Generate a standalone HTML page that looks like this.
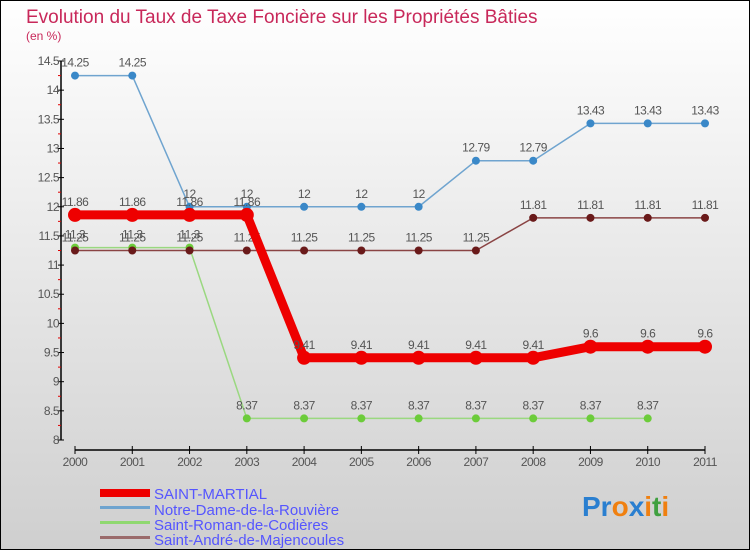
<!DOCTYPE html>
<html><head><meta charset="utf-8"><style>
body{margin:0}
svg{display:block;font-family:"Liberation Sans",sans-serif}
</style></head><body>
<svg width="750" height="550" xmlns="http://www.w3.org/2000/svg">
<defs><linearGradient id="bg" x1="0" y1="0" x2="0" y2="1"><stop offset="0" stop-color="#ffffff"/><stop offset="1" stop-color="#cfcfcf"/></linearGradient></defs>
<rect x="0.5" y="0.5" width="749" height="549" fill="url(#bg)" stroke="#000"/>
<text x="26" y="23" font-size="19" fill="#c8285a">Evolution du Taux de Taxe Foncière sur les Propriétés Bâties</text>
<text x="26" y="40" font-size="12" fill="#c8285a">(en %)</text>
<g id="axes"></g>
<g id="series"></g>
<g font-size="15" fill="#5555ff">
<rect x="100" y="489" width="50" height="8" fill="#ee0000"/>
<text x="154" y="499">SAINT-MARTIAL</text>
<rect x="100" y="506" width="50" height="3" fill="#6fa4cf"/>
<text x="154" y="515">Notre-Dame-de-la-Rouvière</text>
<rect x="100" y="521" width="50" height="3" fill="#8fd870"/>
<text x="154" y="530">Saint-Roman-de-Codières</text>
<rect x="100" y="536" width="50" height="3" fill="#9a6a6a"/>
<text x="154" y="545">Saint-André-de-Majencoules</text>
</g>
<g font-size="28" font-weight="bold">
<text x="582" y="516"><tspan fill="#2a7fd0">Pr</tspan><tspan fill="#f08010">o</tspan><tspan fill="#2a7fd0">x</tspan><tspan fill="#f08010">i</tspan><tspan fill="#40a040">t</tspan><tspan fill="#f08010">i</tspan></text>
</g>
</svg>
<script>
const years=[2000,2001,2002,2003,2004,2005,2006,2007,2008,2009,2010,2011];
const yTicks=[8,8.5,9,9.5,10,10.5,11,11.5,12,12.5,13,13.5,14,14.5];
const saintMartial=[11.86,11.86,11.86,11.86,9.41,9.41,9.41,9.41,9.41,9.6,9.6,9.6];
const notreDame=[14.25,14.25,12,12,12,12,12,12.79,12.79,13.43,13.43,13.43];
const saintRoman=[11.3,11.3,11.3,8.37,8.37,8.37,8.37,8.37,8.37,8.37,8.37,null];
const saintAndre=[11.25,11.25,11.25,11.25,11.25,11.25,11.25,11.25,11.81,11.81,11.81,11.81];
const NS="http://www.w3.org/2000/svg";
const X=i=>75+i*(630/11);
const Y=v=>440-(v-8)*(379/6.5);
function mk(tag,attrs,parent,txt){const e=document.createElementNS(NS,tag);for(const k in attrs)e.setAttribute(k,attrs[k]);if(txt!==undefined)e.textContent=txt;parent.appendChild(e);return e;}
const ax=document.getElementById('axes');
const yl=mk('line',{x1:61,y1:Y(14.5),x2:61,y2:Y(8),stroke:'#000','stroke-width':1.5},ax);


yTicks.forEach((t,i)=>{
 mk('line',{x1:58,y1:Y(t),x2:64,y2:Y(t),stroke:'#000'},ax);
 if(i<yTicks.length-1) mk('line',{x1:58,y1:Y(t+0.25),x2:61,y2:Y(t+0.25),stroke:'#e00000'},ax);
 const tl=mk('text',{x:59,y:Y(t)+4,'font-size':12,fill:'#555','text-anchor':'end','letter-spacing':'-0.5'},ax,String(t));
 
 
});
const xl=mk('line',{x1:X(0),y1:450,x2:X(11),y2:450,stroke:'#000','stroke-width':1.5},ax);


years.forEach((y,i)=>{
 mk('line',{x1:X(i),y1:446,x2:X(i),y2:454,stroke:'#000'},ax);
 const tl=mk('text',{x:X(i),y:466,'font-size':12,fill:'#555','text-anchor':'middle','letter-spacing':'-0.5'},ax,String(y));
 
 
});
const sg=document.getElementById('series');
function draw(name,vals,color,dot,w,r){
 const g=mk('g',{},sg);
 
 
 const pts=vals.map((v,i)=>v==null?null:[X(i),Y(v)]).filter(p=>p);
 mk('polyline',{points:pts.map(p=>p.join(',')).join(' '),fill:'none',stroke:color,'stroke-width':w,'stroke-linejoin':'round'},g);
 vals.forEach((v,i)=>{if(v==null)return;
  const c=mk('circle',{cx:X(i),cy:Y(v),r:r,fill:dot},g);
  
  
  mk('text',{x:X(i),y:Y(v)-9,'font-size':12,fill:'#555','text-anchor':'middle','letter-spacing':'-0.5'},g,String(v));
 });
}
draw('notre-dame',notreDame,'#6fa4cf','#3a88c8',1.5,4);
draw('saint-roman',saintRoman,'#9ad880','#6ccc3a',1.5,4);
draw('saint-andre',saintAndre,'#8a4444','#6a1a1a',1.5,4);
draw('saint-martial',saintMartial,'#ee0000','#ee0000',9,7);
</script>
</body></html>
